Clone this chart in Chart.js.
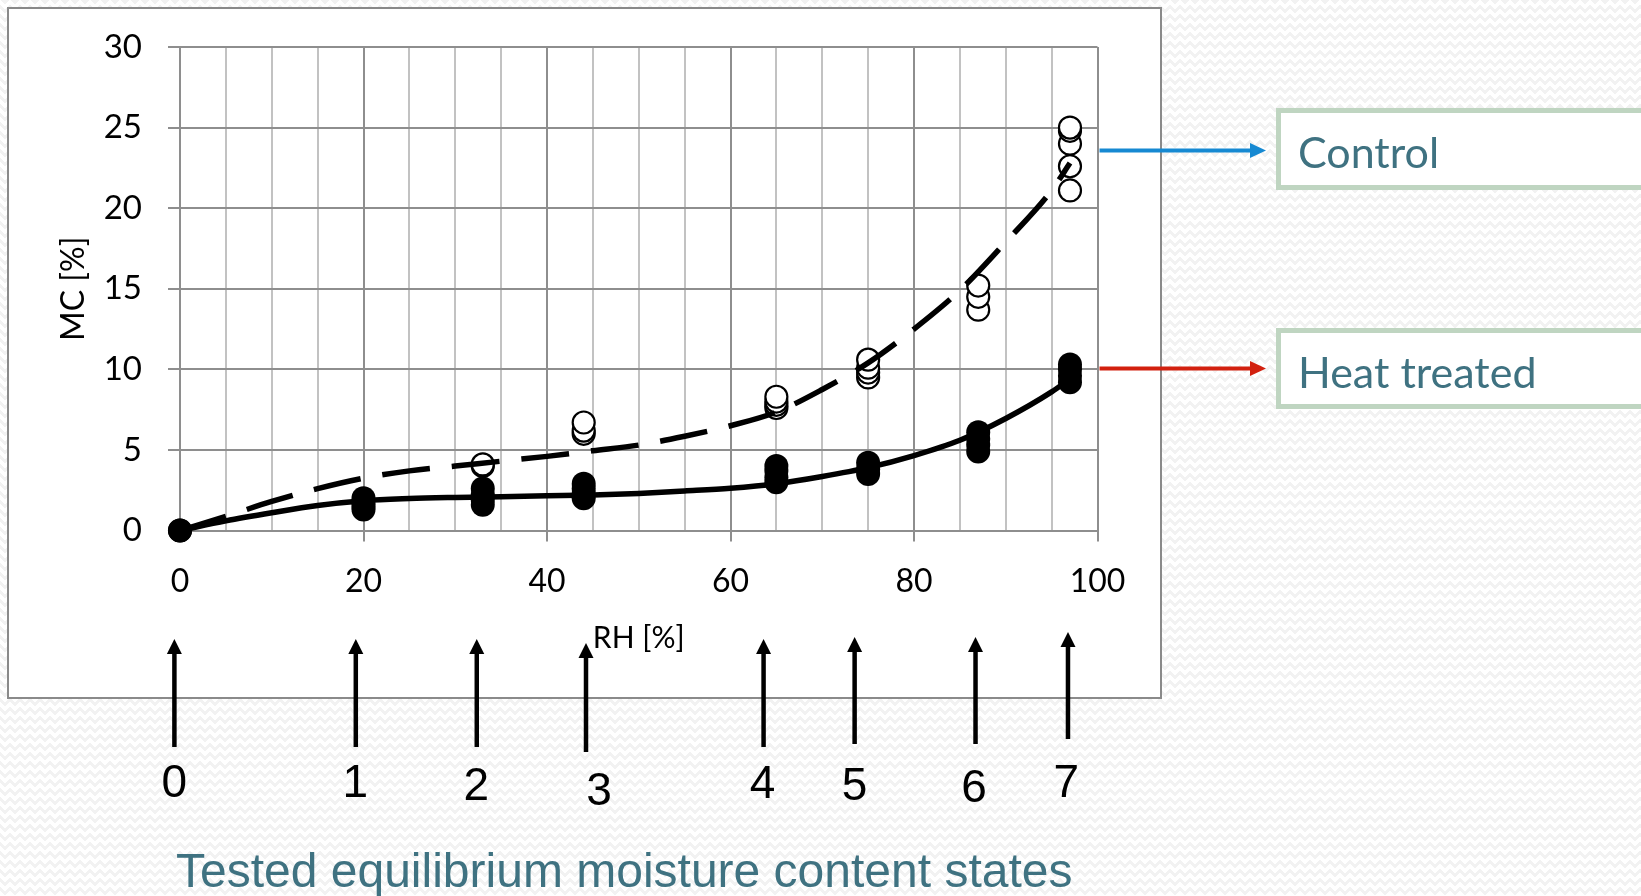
<!DOCTYPE html>
<html>
<head>
<meta charset="utf-8">
<script src="https://cdn.jsdelivr.net/npm/chart.js@4.4.1/dist/chart.umd.min.js"></script>
<style>
  html, body { margin: 0; padding: 0; width: 1641px; height: 896px; overflow: hidden; }
  body {
    background-color: #ffffff;
    background-image:
      linear-gradient(135deg, #f2f2f2 25%, transparent 25%),
      linear-gradient(225deg, #f2f2f2 25%, transparent 25%),
      linear-gradient(315deg, #f2f2f2 25%, transparent 25%),
      linear-gradient(45deg, #f2f2f2 25%, transparent 25%);
    background-position: -5px 0, -5px 0, 0 0, 0 0;
    background-size: 10px 9px;
  }
  #wrap { position: absolute; left: 0; top: 0; width: 1641px; height: 896px; }
  canvas { position: absolute; left: 0; top: 0; }
</style>
</head>
<body>
<div id="wrap"><canvas id="c" width="1641" height="896"></canvas></div>
<script>
// ---------------- DATA ----------------
const rhLevels = [0, 20, 33, 44, 65, 75, 87, 97];
// Heat treated replicate MC values (%) per RH level
const heatMC = [
  [0],
  [1.3, 1.5, 1.7, 2.0],
  [1.6, 1.9, 2.2, 2.6],
  [2.0, 2.3, 2.6, 2.9],
  [3.0, 3.3, 3.7, 4.0],
  [3.5, 3.8, 4.2],
  [4.9, 5.3, 5.7, 6.1],
  [9.2, 9.6, 10.0, 10.3]
];
// Control replicate MC values (%) per RH level
const controlMC = [
  [0],
  [],
  [4.0, 4.1],
  [6.0, 6.2, 6.7],
  [7.6, 7.8, 8.0, 8.3],
  [9.5, 9.8, 10.1, 10.6],
  [13.7, 14.5, 15.2],
  [21.1, 22.6, 24.0, 24.8, 25.0]
];
// Fitted sorption curves
const fitRH      = [0, 5, 10, 15, 20, 25, 30, 35, 40, 45, 50, 55, 60, 65, 70, 75, 80, 85, 90, 95, 97];
const heatFit    = [0, 0.6, 1.1, 1.55, 1.85, 1.98, 2.05, 2.1, 2.15, 2.2, 2.3, 2.45, 2.62, 2.9, 3.35, 3.9, 4.65, 5.6, 6.95, 8.6, 9.4];
const controlFit = [0, 0.88, 1.8, 2.6, 3.25, 3.7, 4.0, 4.3, 4.6, 4.95, 5.3, 5.85, 6.5, 7.35, 8.75, 10.4, 12.5, 14.9, 17.9, 21.1, 22.8];

const xTickLabels = [0, 20, 40, 60, 80, 100];
const yTickLabels = [0, 5, 10, 15, 20, 25, 30];
const stateLabels = ['0', '1', '2', '3', '4', '5', '6', '7'];
const xTitle = 'RH [%]';
const yTitle = 'MC [%]';
const seriesNames = ['Control', 'Heat treated'];
const bottomTitle = 'Tested equilibrium moisture content states';

// ---------------- LAYOUT / STYLE ----------------
const STYLE = {
  majorGrid: '#8e8e8e',
  minorGrid: '#c2c2c2',
  teal: '#3f7281',
  boxBorder: '#bfd5c1',
  blue: '#1689d2',
  red: '#d2200e'
};
// annotation nudges (px) relative to the RH level pixel
const arrowNudge = [-5.6, -7.7, -6, 2.3, -12.8, -13.5, -2.7, -2];
const digitNudge = [0, -0.5, -0.5, 13, -1, 0, -1.5, -1.7];
const arrowTipY = [639, 639, 639, 643, 639, 637, 637, 632];
const arrowBotY = [747, 747, 747, 752, 747, 744, 744, 739];
const digitCY  = [780, 780, 783, 788, 781.5, 783, 785, 780];
const legendBoxes = [
  { y0: 108, y1: 190, arrowY: 150.5, color: '#1689d2' },
  { y0: 328, y1: 409, arrowY: 368.5, color: '#d2200e' }
];

function pts(levels, groups) {
  const out = [];
  groups.forEach((g, i) => g.forEach(v => out.push({ x: levels[i], y: v })));
  return out;
}
function line(xs, ys) { return xs.map((x, i) => ({ x: x, y: ys[i] })); }

const decor = {
  id: 'decor',
  beforeDraw(chart) {
    const ctx = chart.ctx;
    ctx.save();
    ctx.fillStyle = '#ffffff';
    ctx.fillRect(8, 8, 1153, 690);
    ctx.strokeStyle = '#8a8a8a';
    ctx.lineWidth = 2;
    ctx.strokeRect(8, 8, 1153, 690);
    ctx.restore();
  },
  afterDraw(chart) {
    const ctx = chart.ctx;
    const xs = chart.scales.x;
    ctx.save();
    // legend-like boxes
    legendBoxes.forEach((b, i) => {
      ctx.fillStyle = '#ffffff';
      ctx.fillRect(1276, b.y0, 380, b.y1 - b.y0);
      ctx.strokeStyle = STYLE.boxBorder;
      ctx.lineWidth = 5;
      ctx.strokeRect(1278.5, b.y0 + 2.5, 380, b.y1 - b.y0 - 5);
      ctx.fillStyle = STYLE.teal;
      ctx.font = '43px Lato';
      ctx.textBaseline = 'alphabetic';
      ctx.textAlign = 'left';
      ctx.fillText(seriesNames[i], 1298, b.y0 + 60);
      // arrow
      ctx.strokeStyle = b.color;
      ctx.fillStyle = b.color;
      ctx.lineWidth = 4;
      ctx.beginPath();
      ctx.moveTo(xs.right + 2, b.arrowY);
      ctx.lineTo(1252, b.arrowY);
      ctx.stroke();
      ctx.beginPath();
      ctx.moveTo(1266, b.arrowY);
      ctx.lineTo(1250, b.arrowY - 7.5);
      ctx.lineTo(1250, b.arrowY + 7.5);
      ctx.closePath();
      ctx.fill();
    });

    // state arrows & digits
    ctx.strokeStyle = '#000';
    ctx.fillStyle = '#000';
    rhLevels.forEach((rh, i) => {
      const x = xs.getPixelForValue(rh) + arrowNudge[i];
      ctx.lineWidth = 4.5;
      ctx.beginPath();
      ctx.moveTo(x, arrowBotY[i]);
      ctx.lineTo(x, arrowTipY[i] + 12);
      ctx.stroke();
      ctx.beginPath();
      ctx.moveTo(x, arrowTipY[i]);
      ctx.lineTo(x - 7.5, arrowTipY[i] + 15);
      ctx.lineTo(x + 7.5, arrowTipY[i] + 15);
      ctx.closePath();
      ctx.fill();
      ctx.font = '46px "Liberation Sans"';
      ctx.textAlign = 'center';
      ctx.textBaseline = 'alphabetic';
      ctx.fillText(stateLabels[i], x + digitNudge[i], digitCY[i] + 16.5);
    });

    // bottom title
    ctx.fillStyle = STYLE.teal;
    ctx.font = '48px "Liberation Sans"';
    ctx.textAlign = 'left';
    ctx.fillText(bottomTitle, 176, 887);
    ctx.restore();
  }
};

function build() {
  const ctx = document.getElementById('c').getContext('2d');
  new Chart(ctx, {
    type: 'scatter',
    data: {
      datasets: [
        {
          label: seriesNames[1] + ' fit',
          type: 'line',
          data: line(fitRH, heatFit),
          borderColor: '#000',
          borderWidth: 5.5,
          pointRadius: 0,
          fill: false,
          cubicInterpolationMode: 'monotone',
          clip: false,
          order: 0
        },
        {
          label: seriesNames[0] + ' fit',
          type: 'line',
          data: line(fitRH, controlFit),
          borderColor: '#000',
          borderWidth: 5.5,
          borderDash: [48, 22],
          pointRadius: 0,
          fill: false,
          cubicInterpolationMode: 'monotone',
          clip: false,
          order: 0
        },
        {
          label: seriesNames[1],
          data: pts(rhLevels, heatMC),
          backgroundColor: '#000',
          borderColor: '#000',
          borderWidth: 0,
          pointRadius: 12,
          clip: false,
          order: 1
        },
        {
          label: seriesNames[0],
          data: pts(rhLevels, controlMC),
          backgroundColor: '#fff',
          borderColor: '#000',
          borderWidth: 2.2,
          pointRadius: 11,
          clip: false,
          order: 2
        }
      ]
    },
    options: {
      responsive: false,
      animation: false,
      devicePixelRatio: 1,
      layout: { padding: { left: 0, top: 47, right: 543.5, bottom: 240 } },
      plugins: { legend: { display: false }, tooltip: { enabled: false } },
      scales: {
        x: {
          type: 'linear',
          min: 0, max: 100,
          afterFit(s) { s.height = 125.5; },
          afterBuildTicks(s) {
            const t = [];
            for (let v = 0; v <= 100; v += 5) t.push({ value: v });
            s.ticks = t;
          },
          ticks: {
            autoSkip: false,
            maxRotation: 0,
            padding: 21,
            color: '#000',
            font: { family: 'Lato', size: 32 },
            callback: (v) => xTickLabels.includes(v) ? String(v) : ''
          },
          grid: {
            lineWidth: 2,
            tickLength: 11,
            color: (c) => (c.tick && c.tick.value % 20 === 0) ? STYLE.majorGrid : STYLE.minorGrid,
            tickColor: (c) => (c.tick && c.tick.value % 20 === 0) ? STYLE.majorGrid : 'rgba(0,0,0,0)'
          },
          border: { color: STYLE.majorGrid, width: 2 },
          title: {
            display: true,
            text: xTitle,
            color: '#000',
            font: { family: 'Lato', size: 30 },
            padding: { top: 0, bottom: 0 }
          }
        },
        y: {
          type: 'linear',
          min: 0, max: 30,
          afterFit(s) { s.width = 180; },
          afterBuildTicks(s) { s.ticks = yTickLabels.map(v => ({ value: v })); },
          ticks: {
            padding: 26,
            color: '#000',
            font: { family: 'Lato', size: 33 }
          },
          grid: {
            lineWidth: 2,
            tickLength: 12,
            color: STYLE.majorGrid,
            tickColor: STYLE.majorGrid
          },
          border: { color: STYLE.majorGrid, width: 2 },
          title: {
            display: true,
            text: yTitle,
            color: '#000',
            font: { family: 'Lato', size: 32 },
            padding: { top: 54, bottom: 0 }
          }
        }
      }
    },
    plugins: [decor]
  });
}

Promise.all([
  document.fonts.load('32px Lato'),
  document.fonts.load('46px "Liberation Sans"')
]).then(build, build);
</script>
</body>
</html>
